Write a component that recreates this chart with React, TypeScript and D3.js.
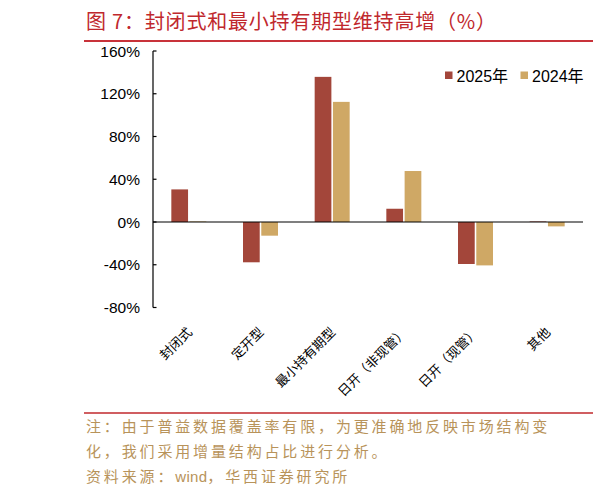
import React from "react";
import * as d3 from "d3";

const categories = ["封闭式", "定开型", "最小持有期型", "日开（非现管）", "日开（现管）", "其他"];
const seriesNames = ["2025年", "2024年"];
const values2025 = [30.5, -37.7, 135.8, 12.4, -39.3, 0.5];
const values2024 = [0.5, -12.8, 112.4, 47.7, -40.6, -4.1];
const yTicks = [-80, -40, 0, 40, 80, 120, 160];
const colors = ["#a3463a", "#cfa865"];

const W = 593;
const H = 497;
const left = 153;
const right = 583;
const top = 51;
const bottom = 307.5;

export default function App() {
  const x0 = d3.scaleBand<string>().domain(categories).range([left, right]).padding(0);
  const bw = x0.bandwidth();
  const x1 = d3
    .scaleBand<string>()
    .domain(seriesNames)
    .range([bw / 2 - 17.5, bw / 2 + 17.5])
    .paddingInner(3 / 35);
  const y = d3.scaleLinear().domain([-80, 160]).range([bottom, top]);
  const data = [values2025, values2024];
  const font = "Liberation Sans, Arial, Noto Sans CJK SC, sans-serif";
  const cjk = "Noto Sans CJK SC, sans-serif";

  return (
    <svg
      width={W}
      height={H}
      style={{ position: "absolute", left: 0, top: 0, background: "#fff" }}
    >
      <text x={86} y={29} fontFamily={cjk} fontSize={20} fill="#c0282d" letterSpacing={0.8}>
        图 7：封闭式和最小持有期型维持高增（%）
      </text>
      <line x1={84} x2={593} y1={41} y2={41} stroke="#c8323a" strokeWidth={2} />

      {/* bars */}
      {seriesNames.map((s, si) =>
        categories.map((c, ci) => {
          const v = data[si][ci];
          const y0 = y(0);
          const yv = y(v);
          return (
            <rect
              key={s + c}
              x={(x0(c) as number) + (x1(s) as number)}
              y={Math.min(y0, yv)}
              width={x1.bandwidth()}
              height={Math.abs(y0 - yv)}
              fill={colors[si]}
            />
          );
        })
      )}

      {/* zero line */}
      <line x1={left} x2={right} y1={y(0)} y2={y(0)} stroke="#000" strokeWidth={1.2} />
      {/* y axis */}
      <line x1={left} x2={left} y1={top} y2={bottom} stroke="#000" strokeWidth={1.2} />
      {yTicks.map((t) => (
        <g key={t}>
          <line x1={left} x2={left + 3.5} y1={y(t)} y2={y(t)} stroke="#000" strokeWidth={1.2} />
          <text
            x={140}
            y={y(t)}
            dy="0.36em"
            textAnchor="end"
            fontFamily={font}
            fontSize={15.5}
            fill="#000"
          >
            {t}%
          </text>
        </g>
      ))}

      {/* x labels */}
      {categories.map((c) => {
        const cx = (x0(c) as number) + bw / 2 + 4;
        const cy = 333;
        return (
          <text
            key={c}
            x={cx}
            y={cy}
            transform={`rotate(-45 ${cx} ${cy})`}
            textAnchor="end"
            fontFamily={cjk}
            fontSize={13}
            fill="#000"
          >
            {c}
          </text>
        );
      })}

      {/* legend */}
      {seriesNames.map((s, i) => {
        const lx = i === 0 ? 445 : 520.5;
        return (
          <g key={s}>
            <rect x={lx} y={71.5} width={7.5} height={7.5} fill={colors[i]} />
            <text x={lx + 11.5} y={81.5} fontFamily={font} fontSize={16} fill="#000">
              {s}
            </text>
          </g>
        );
      })}

      {/* footnote */}
      <line x1={84} x2={593} y1={413} y2={413} stroke="#c0282d" strokeWidth={1.5} />
      <g fontFamily={cjk} fontSize={15} fill="#b8935a" letterSpacing={2.85}>
        <text x={86} y={432}>注：由于普益数据覆盖率有限，为更准确地反映市场结构变</text>
        <text x={86} y={457}>化，我们采用增量结构占比进行分析。</text>
        <text x={86} y={482}>
          资料来源：
          <tspan fontFamily={font} letterSpacing={0.3}>wind</tspan>
          ，华西证券研究所
        </text>
      </g>
    </svg>
  );
}
